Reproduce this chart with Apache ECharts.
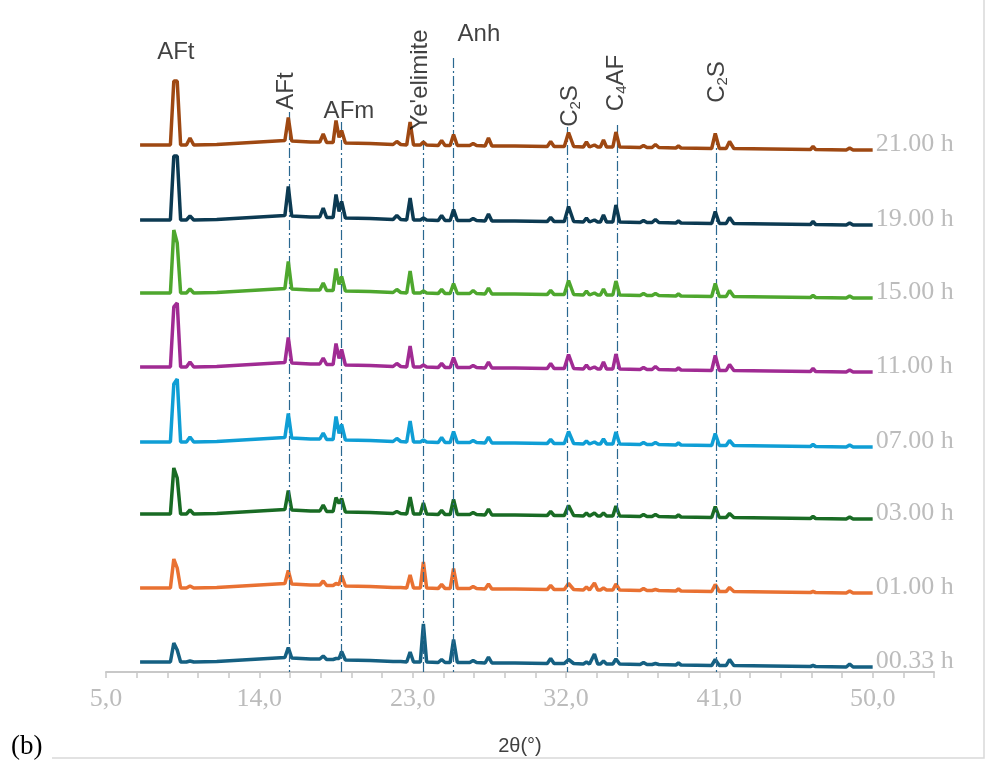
<!DOCTYPE html>
<html>
<head>
<meta charset="utf-8">
<title>XRD (b)</title>
<script src="https://cdn.jsdelivr.net/npm/echarts@6/dist/echarts.min.js"></script>
<style>
  html, body { margin: 0; padding: 0; background: #fff; }
  #chart { width: 988px; height: 771px; }
</style>
</head>
<body>
<div id="chart"></div>
<script>
// 2θ positions of the vertices (feet and tops of each reflection)
const angles = [
  7.0,
  8.78, 8.98, 9.18, 9.38,
  9.72, 9.93, 10.15,
  11.5, 13.0, 14.5,
  15.5, 15.7, 15.9,
  17.0,
  17.55, 17.75, 17.95,
  18.33, 18.5, 18.68, 18.83, 19.05,
  20.5,
  21.85, 22.07, 22.3,
  22.65, 22.85, 23.05,
  23.45, 23.63, 23.82,
  24.5, 24.7, 24.9,
  25.2, 25.4, 25.62,
  26.35, 26.55, 26.75,
  27.25, 27.45, 27.65,
  29.0,
  30.9, 31.1, 31.3,
  31.9, 32.15, 32.45,
  33.02, 33.2, 33.38,
  33.48, 33.67, 33.86,
  34.02, 34.2, 34.38,
  34.75, 34.93, 35.15,
  36.35, 36.55, 36.75,
  37.05, 37.25, 37.45,
  38.45, 38.6, 38.75,
  40.55, 40.76, 41.0,
  41.4, 41.6, 41.85,
  44.0,
  46.35, 46.5, 46.65,
  48.45, 48.65, 48.85,
  50.0
];

// common background (amorphous hump + drift), same vertices
const background = [
  0,
  0, 0, 0, 0,
  0, 0, 0,
  0.5, 2, 3.5,
  4.5, 4.5, 4,
  3,
  3, 3, 2.5,
  2.5, 2.5, 2.5, 2.5, 2,
  1.5,
  0.5, 0.5, 0.5,
  0, 0, 0,
  0, 0, 0,
  -0.5, -0.5, -0.5,
  -0.5, -0.5, -0.5,
  -0.5, -0.5, -0.5,
  -1, -1, -1,
  -1,
  -1.5, -1.5, -1.5,
  -1.5, -1.5, -1.5,
  -2, -2, -2,
  -2, -2, -2,
  -2, -2, -2,
  -2, -2, -2,
  -2.5, -2.5, -2.5,
  -2.5, -2.5, -2.5,
  -3, -3, -3,
  -3.5, -3.5, -3.5,
  -3.5, -3.5, -3.5,
  -4,
  -4.5, -4.5, -4.5,
  -5, -5, -5,
  -5
];

// peak intensities above background (a.u.), one array per hydration time
const h21 = [0, 0,64,64,0, 0,7,0, 0,0,0, 0,23,0, 0, 0,8,0, 0,22,5,12,0, 0, 0,3,0, 0,23,0, 0,3,0, 0,5,0, 0,11,0, 0,2,0, 0,8,0, 0, 0,5,0, 0,14,0, 0,5,0, 0,2,0, 0,7,0, 0,15,0, 0,2,0, 0,3,0, 0,2,0, 0,15,0, 0,7,0, 0, 0,3,0, 0,2,0, 0];
const h19 = [0, 0,64,64,0, 0,4,0, 0,0,0, 0,29,0, 0, 0,9,0, 0,23,6,16,0, 0, 0,4,0, 0,22,0, 0,2,0, 0,5,0, 0,11,0, 0,2,0, 0,7,0, 0, 0,4,0, 0,15,0, 0,4,0, 0,2,0, 0,7,0, 0,17,0, 0,2,0, 0,3,0, 0,2,0, 0,12,0, 0,6,0, 0, 0,3,0, 0,2,0, 0];
const h15 = [0, 0,63,50,0, 0,4,0, 0,0,0, 0,27,0, 0, 0,7,0, 0,22,6,14,0, 0, 0,3,0, 0,22,0, 0,2,0, 0,4,0, 0,10,0, 0,3,0, 0,6,0, 0, 0,4,0, 0,14,0, 0,4,0, 0,2,0, 0,6,0, 0,14,0, 0,2,0, 0,2,0, 0,2,0, 0,13,0, 0,6,0, 0, 0,2,0, 0,2,0, 0];
const h11 = [0, 0,60,64,0, 0,5,0, 0,0,0, 0,25,0, 0, 0,6,0, 0,21,6,15,0, 0, 0,3,0, 0,21,0, 0,2,0, 0,4,0, 0,10,0, 0,2,0, 0,6,0, 0, 0,5,0, 0,14,0, 0,4,0, 0,2,0, 0,7,0, 0,15,0, 0,2,0, 0,3,0, 0,2,0, 0,15,0, 0,6,0, 0, 0,3,0, 0,2,0, 0];
const h07 = [0, 0,58,63,0, 0,5,0, 0,0,0, 0,24,0, 0, 0,6,0, 0,23,6,15,0, 0, 0,3,0, 0,21,0, 0,2,0, 0,5,0, 0,11,0, 0,2,0, 0,6,0, 0, 0,4,0, 0,12,0, 0,3,0, 0,2,0, 0,5,0, 0,12,0, 0,2,0, 0,2,0, 0,2,0, 0,12,0, 0,5,0, 0, 0,2,0, 0,2,0, 0];
const h03 = [0, 0,46,36,0, 0,4,0, 0,0,0, 0,19,0, 0, 0,6,0, 0,14,8,13,0, 0, 0,2,0, 0,17,0, 0,11,0, 0,4,0, 0,15,0, 0,2,0, 0,6,0, 0, 0,4,0, 0,10,0, 0,3,0, 0,3,0, 0,3,0, 0,10,0, 0,2,0, 0,2,0, 0,2,0, 0,11,0, 0,4,0, 0, 0,2,0, 0,2,0, 0];
const h01 = [0, 0,29,20,0, 0,2,0, 0,0,0, 0,13,0, 0, 0,4,0, 0,2,1,10,0, 0, 0,0,0, 0,13,0, 0,26,0, 0,4,0, 0,20,0, 0,2,0, 0,5,0, 0, 0,4,0, 0,6,0, 0,3,0, 0,7,0, 0,2,0, 0,6,0, 0,2,0, 0,1,0, 0,2,0, 0,7,0, 0,4,0, 0, 0,1,0, 0,2,0, 0];
const h0033 = [0, 0,19,12,0, 0,1,0, 0,0,0, 0,10,0, 0, 0,3,0, 0,1,1,8,0, 0, 0,0,0, 0,10,0, 0,38,0, 0,3,0, 0,23,0, 0,2,0, 0,6,0, 0, 0,5,0, 0,4,0, 0,2,0, 0,10,0, 0,3,0, 0,5,0, 0,2,0, 0,1,0, 0,2,0, 0,6,0, 0,6,0, 0, 0,1,0, 0,3,0, 0];

const seriesNames = ['00.33 h', '01.00 h', '03.00 h', '07.00 h', '11.00 h', '15.00 h', '19.00 h', '21.00 h'];
const seriesHeights = [h0033, h01, h03, h07, h11, h15, h19, h21];
const stackOffsets = [10, 84, 158, 230, 305, 379, 452, 527];
const seriesColors = ['#156082', '#E97132', '#196B24', '#0F9ED5', '#A02B93', '#4EA72E', '#0C3A52', '#9E4812'];

// phase reflections marked with dash-dot guides
const phaseNames = ['AFt', 'AFt', 'AFm', "Ye'elimite", 'Anh', 'C2S', 'C4AF', 'C2S'];
const phaseAngles = [8.93, 15.75, 18.78, 23.63, 25.39, 32.05, 34.99, 40.82];

// guide extents and label placement (layout only)
const guideTop = [587, 560, 550, 532, 614, 545, 547, 537];
const guideBottom = [-50, 0, 0, 0, 0, 0, 12, 0];
const labelPlace = [
  [9.1, 620, 0], [15.56, 581, 90], [19.26, 561, 0], [23.43, 592, 90],
  [26.89, 638, 0], [32.23, 566, 90], [34.93, 589, 90], [40.86, 590, 90]
];

const richName = (s) => s
  .replace(/^C(\d)(.*)$/, (m, d, rest) => '{n|C}{s|' + d + '}{n|' + rest + '}')
  .replace(/^([^{].*)$/, '{n|$1}');

const chart = echarts.init(document.getElementById('chart'));

const lineSeries = seriesNames.map((name, k) => {
  const s = {
    name: name,
    type: 'line',
    data: angles.map((a, i) => [a, stackOffsets[k] + background[i] + seriesHeights[k][i]]),
    showSymbol: false,
    clip: false,
    lineStyle: { color: seriesColors[k], width: 3.5 },
    itemStyle: { color: seriesColors[k] },
    endLabel: {
      show: true,
      formatter: '{a}',
      distance: 3,
      offset: [0, -6],
      fontFamily: 'Liberation Serif',
      fontSize: 26,
      color: '#bcbcbc'
    },
    z: 2 + k
  };
  if (k === 0) {
    s.markLine = {
      silent: true,
      symbol: ['none', 'none'],
      label: { show: false },
      lineStyle: { type: [10, 3, 2, 3], color: '#2a6890', width: 1.2 },
      data: phaseAngles.map((a, i) => [
        { coord: [a, guideTop[i]] },
        { coord: [a, guideBottom[i]] }
      ])
    };
  }
  return s;
});

const labelSeries = {
  type: 'scatter',
  symbolSize: 0,
  silent: true,
  clip: false,
  z: 20,
  data: phaseNames.map((n, i) => ({
    value: [labelPlace[i][0], labelPlace[i][1]],
    label: {
      show: true,
      position: 'inside',
      rotate: labelPlace[i][2],
      align: 'center',
      verticalAlign: 'middle',
      formatter: richName(n),
      rich: {
        n: { fontFamily: 'Liberation Sans', fontSize: 24, color: '#111' },
        s: { fontFamily: 'Liberation Sans', fontSize: 15, color: '#111', verticalAlign: 'bottom', padding: [12, 0, 0, 0] }
      }
    }
  }))
};

chart.setOption({
  animation: false,
  backgroundColor: '#fff',
  title: {
    text: '(b)',
    left: 6,
    top: 728,
    textStyle: { fontFamily: 'Liberation Serif', fontSize: 27, fontWeight: 'normal', color: '#000' }
  },
  graphic: [{
    type: 'polyline',
    shape: { points: [[52, 758], [984, 758], [984, -2]] },
    style: { fill: null, stroke: '#d9d9d9', lineWidth: 1.5 },
    silent: true,
    z: -1
  }],
  grid: { left: 106, right: 54, top: 0, bottom: 99, containLabel: false },
  xAxis: {
    type: 'value',
    min: 5,
    max: 53.6,
    interval: 1.8,
    name: '2θ(°)',
    nameLocation: 'middle',
    nameGap: 64,
    nameTextStyle: { fontFamily: 'Liberation Sans', fontSize: 20, color: '#404040' },
    axisLine: { lineStyle: { color: '#c8c8c8', width: 2 } },
    axisTick: { show: true, length: 6, lineStyle: { color: '#c8c8c8', width: 1.5 } },
    splitLine: { show: false },
    axisLabel: {
      margin: 14,
      fontFamily: 'Liberation Serif',
      fontSize: 26,
      color: '#bcbcbc',
      formatter: (v) => {
        const k = Math.round((v - 5) / 1.8);
        return k % 5 === 0 ? v.toFixed(1).replace('.', ',') : '';
      }
    }
  },
  yAxis: { type: 'value', min: 0, max: 672, show: false },
  series: lineSeries.concat([labelSeries])
});
</script>
</body>
</html>
